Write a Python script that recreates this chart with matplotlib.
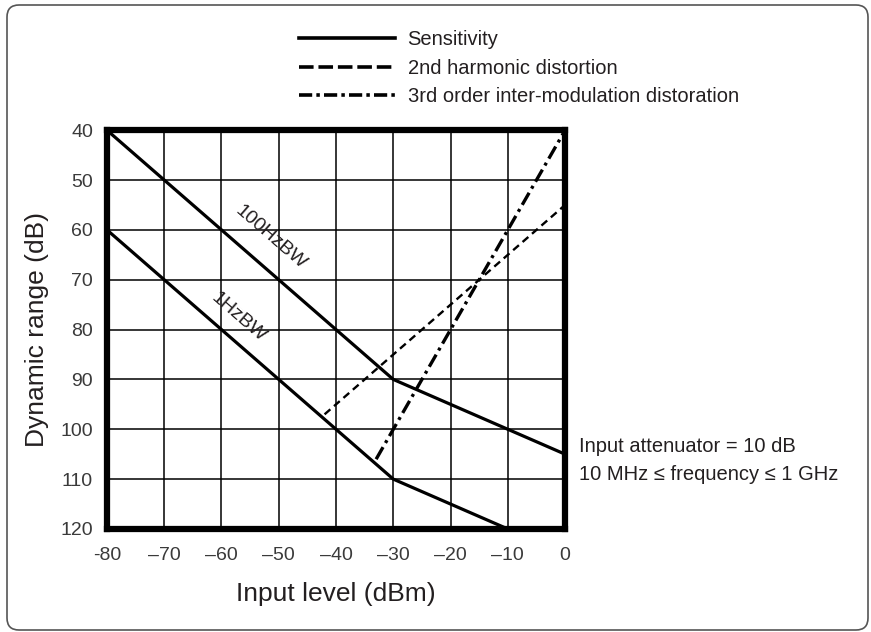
import matplotlib
matplotlib.use("Agg")
import matplotlib.pyplot as plt
from matplotlib.lines import Line2D
from matplotlib.patches import FancyBboxPatch

plt.rcParams['font.family'] = ['Liberation Sans', 'DejaVu Sans']
plt.rcParams['lines.scale_dashes'] = False

# ── data ──
sens_100hz_x = [-80, -30, 0]
sens_100hz_y = [40, 90, 105]
sens_1hz_x = [-80, -30, -10]
sens_1hz_y = [60, 110, 120]
harm2_x = [-42, 0]
harm2_y = [97, 55]
imd3_x = [-33, 0]
imd3_y = [106, 40]

x_ticks = [-80, -70, -60, -50, -40, -30, -20, -10, 0]
y_ticks = [40, 50, 60, 70, 80, 90, 100, 110, 120]

txt = '#231f20'

fig = plt.figure(figsize=(8.71, 6.32), dpi=100)
ax = fig.add_axes([0.1228, 0.163, 0.526, 0.631])

ax.plot(sens_100hz_x, sens_100hz_y, color='black', lw=2.3, solid_joinstyle='miter')
ax.plot(sens_1hz_x, sens_1hz_y, color='black', lw=2.3, solid_joinstyle='miter')
ax.plot(harm2_x, harm2_y, color='black', lw=1.7, dashes=(5.5, 3.5))
ax.plot(imd3_x, imd3_y, color='black', lw=2.4, dashes=(10, 3.5, 2.2, 3.5))

ax.text(-51.5, 61.6, '100HzBW', rotation=-41, ha='center', va='center',
        fontsize=14, color=txt)
ax.text(-57.1, 77.6, '1HzBW', rotation=-41, ha='center', va='center',
        fontsize=14, color=txt)

ax.set_xlim(-80, 0)
ax.set_ylim(120, 40)
ax.set_xticks(x_ticks)
ax.set_yticks(y_ticks)
ax.set_xticklabels([str(v).replace('-', '\u2013') if v != -80 else '-80' for v in x_ticks])
ax.grid(True, color='black', lw=1.1)
ax.set_axisbelow(True)
for s in ax.spines.values():
    s.set_linewidth(4.5)
ax.tick_params(length=0, labelsize=14, labelcolor='#3a3a3a')
ax.tick_params(axis='x', pad=13)
ax.tick_params(axis='y', pad=10)
ax.set_xlabel('Input level (dBm)', fontsize=19, color=txt, labelpad=13)
ax.set_ylabel('Dynamic range (dB)', fontsize=19, color=txt, labelpad=8)

ax.text(1.03, 0.172, 'Input attenuator = 10 dB\n10 MHz \u2264 frequency \u2264 1 GHz',
        transform=ax.transAxes, fontsize=14.5, color=txt, va='center', ha='left',
        linespacing=1.55)

# legend keys are drawn a bit heavier than the plotted lines, as in the original
handles = [
    Line2D([], [], color='black', lw=2.6),
    Line2D([], [], color='black', lw=2.6, dashes=(10.5, 3.5)),
    Line2D([], [], color='black', lw=2.6, dashes=(9.5, 3, 2.5, 3)),
]
labels = ['Sensitivity', '2nd harmonic distortion',
          '3rd order inter-modulation distoration']
fig.legend(handles, labels, loc='upper left',
           bbox_to_anchor=(0.343, 0.952), frameon=False, fontsize=14.5,
           handlelength=4.8, handletextpad=0.6, labelspacing=0.47,
           labelcolor=txt, borderpad=0, borderaxespad=0)

box = FancyBboxPatch((0.07, 0.02), 8.61, 6.25, boxstyle='round,pad=0,rounding_size=0.12',
                     transform=fig.dpi_scale_trans, facecolor='none',
                     edgecolor='#555555', lw=1.2)
fig.patches.append(box)

fig.savefig('out.png', dpi=100)
